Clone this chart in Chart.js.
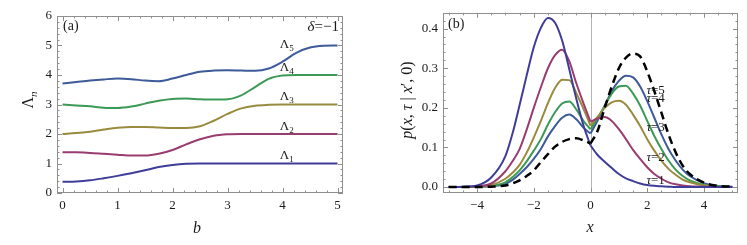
<!DOCTYPE html>
<html>
<head>
<meta charset="utf-8">
<script src="https://cdn.jsdelivr.net/npm/chart.js@4"></script>
<style>
  html, body { margin: 0; padding: 0; background: #fff; }
  #wrap { position: relative; width: 747px; height: 245px; }
  canvas { position: absolute; top: 0; }
  #chartA { left: 0; }
  #chartB { left: 375px; }
</style>
</head>
<body>
<div id="wrap">
  <canvas id="chartA" width="375" height="245"></canvas>
  <canvas id="chartB" width="372" height="245"></canvas>
</div>
<script>
// ---- panel (a): eigenvalues vs b ----
const bValues = [0, 0.25, 0.5, 0.75, 1, 1.25, 1.5, 1.75, 2, 2.25, 2.5, 2.75, 3, 3.25, 3.5, 3.75, 4, 4.25, 4.5, 4.75, 5];
const lambda1 = [0.38, 0.39, 0.43, 0.50, 0.58, 0.67, 0.77, 0.88, 0.95, 0.99, 1.0, 1, 1, 1, 1, 1, 1, 1, 1, 1, 1];
const lambda2 = [1.38, 1.38, 1.36, 1.33, 1.30, 1.27, 1.27, 1.33, 1.46, 1.65, 1.82, 1.94, 1.99, 2, 2, 2, 2, 2, 2, 2, 2];
const lambda3 = [2.0, 2.03, 2.08, 2.15, 2.21, 2.24, 2.24, 2.22, 2.20, 2.20, 2.26, 2.45, 2.68, 2.87, 2.96, 2.99, 3, 3, 3, 3, 3];
const lambda4 = [3.0, 2.97, 2.94, 2.89, 2.88, 2.93, 3.03, 3.13, 3.19, 3.20, 3.18, 3.17, 3.18, 3.31, 3.59, 3.87, 3.98, 4, 4, 4, 4];
const lambda5 = [3.71, 3.76, 3.81, 3.85, 3.88, 3.86, 3.81, 3.79, 3.88, 4.00, 4.11, 4.15, 4.16, 4.15, 4.14, 4.22, 4.45, 4.75, 4.93, 4.99, 5.0];
const lambdaNames = ['1', '2', '3', '4', '5'];
const aXTicks = [0, 1, 2, 3, 4, 5];
const aYTicks = [0, 1, 2, 3, 4, 5, 6];

// ---- panel (b): p(x, tau | x', 0) ----
const xValues = [-5, -4.5, -4, -3.5, -3, -2.75, -2.5, -2.25, -2, -1.75, -1.5, -1.25, -1, -0.75, -0.5, -0.25, 0,
  0.25, 0.5, 0.75, 1, 1.25, 1.5, 1.75, 2, 2.25, 2.5, 2.75, 3, 3.25, 3.5, 4, 4.5, 5];
const tau1 = [0, 0.001, 0.004, 0.024, 0.078, 0.135, 0.207, 0.282, 0.353, 0.402, 0.427, 0.415, 0.370, 0.298, 0.223, 0.156, 0.105,
  0.081, 0.064, 0.048, 0.033, 0.022, 0.015, 0.009, 0.005, 0.003, 0.002, 0.001, 0, 0, 0, 0, 0, 0];
const tau2 = [0, 0, 0.002, 0.009, 0.040, 0.065, 0.096, 0.145, 0.200, 0.252, 0.300, 0.333, 0.347, 0.318, 0.262, 0.212, 0.165,
  0.173, 0.177, 0.167, 0.146, 0.121, 0.094, 0.071, 0.050, 0.033, 0.021, 0.012, 0.007, 0.004, 0.002, 0.001, 0, 0];
const tau3 = [0, 0, 0.001, 0.005, 0.021, 0.036, 0.056, 0.087, 0.125, 0.167, 0.212, 0.250, 0.271, 0.270, 0.237, 0.198, 0.155,
  0.177, 0.200, 0.214, 0.218, 0.208, 0.183, 0.154, 0.121, 0.092, 0.067, 0.046, 0.031, 0.019, 0.012, 0.004, 0.001, 0];
const tau4 = [0, 0, 0.001, 0.003, 0.012, 0.025, 0.042, 0.065, 0.092, 0.121, 0.158, 0.189, 0.211, 0.216, 0.196, 0.167, 0.146,
  0.174, 0.205, 0.236, 0.254, 0.256, 0.236, 0.206, 0.167, 0.129, 0.096, 0.067, 0.044, 0.028, 0.017, 0.006, 0.002, 0];
const tau5 = [0, 0, 0.001, 0.002, 0.008, 0.018, 0.033, 0.050, 0.071, 0.096, 0.128, 0.154, 0.175, 0.183, 0.171, 0.150, 0.135,
  0.168, 0.205, 0.242, 0.268, 0.281, 0.277, 0.254, 0.217, 0.175, 0.133, 0.096, 0.067, 0.044, 0.028, 0.010, 0.003, 0.001];
const pDashed = [0, 0, 0, 0.001, 0.004, 0.009, 0.017, 0.028, 0.042, 0.063, 0.083, 0.102, 0.114, 0.121, 0.123, 0.118, 0.110,
  0.142, 0.200, 0.254, 0.300, 0.327, 0.337, 0.330, 0.292, 0.242, 0.188, 0.133, 0.088, 0.054, 0.033, 0.011, 0.003, 0.001];
const tauNames = ['1', '2', '3', '4', '5'];
const bXTicks = [-4, -2, 0, 2, 4];
const bYTicks = [0, 0.1, 0.2, 0.3, 0.4];

const colors = ['#3f3d99', '#993d71', '#998b3d', '#3d9956', '#3d5a99'];
const SERIF = '"Liberation Serif", "DejaVu Serif", serif';
const INK = '#1a1a1a';

// draw text made of pieces (italic / subscript)
function richText(ctx, parts, x, y, size, align) {
  const font = p => (p.it ? 'italic ' : '') + (p.sub ? Math.round(size * 0.7) : size) + 'px ' + SERIF;
  let w = 0;
  parts.forEach(p => { ctx.font = font(p); p.w = ctx.measureText(p.t).width; w += p.w; });
  let cx = align === 'center' ? x - w / 2 : align === 'right' ? x - w : x;
  ctx.textAlign = 'left';
  ctx.textBaseline = 'alphabetic';
  parts.forEach(p => {
    ctx.font = font(p);
    ctx.fillText(p.t, cx, y + (p.sub ? size * 0.25 : 0));
    cx += p.w;
  });
}

// frame with inward major/minor ticks on all four sides, like Mathematica
const framePlugin = {
  id: 'frame',
  beforeDatasetsDraw(chart, args, opts) {
    if (!opts.zeroLine) return;
    const { ctx, chartArea: a, scales: { x } } = chart;
    const px = Math.round(x.getPixelForValue(0)) + 0.5;
    ctx.save();
    ctx.strokeStyle = '#b4b4b4';
    ctx.lineWidth = 1;
    ctx.beginPath();
    ctx.moveTo(px, a.top);
    ctx.lineTo(px, a.bottom);
    ctx.stroke();
    ctx.restore();
  },
  afterDatasetsDraw(chart, args, opts) {
    const { ctx, chartArea: a, scales: { x, y } } = chart;
    ctx.save();
    ctx.strokeStyle = '#8f8f8f';
    ctx.lineWidth = 1;
    ctx.strokeRect(Math.round(a.left) + 0.5, Math.round(a.top) + 0.5,
      Math.round(a.right - a.left) - 1, Math.round(a.bottom - a.top) - 1);
    ctx.beginPath();
    const isMajor = (v, list) => list.some(t => Math.abs(t - v) < 1e-6);
    for (let k = Math.ceil(x.min / opts.xMinor - 1e-9); k * opts.xMinor <= x.max + 1e-9; k++) {
      const v = k * opts.xMinor;
      const px = Math.round(x.getPixelForValue(v)) + 0.5;
      const len = isMajor(v, opts.xMajor) ? 5 : 2.5;
      ctx.moveTo(px, a.bottom); ctx.lineTo(px, a.bottom - len);
      ctx.moveTo(px, a.top); ctx.lineTo(px, a.top + len);
    }
    for (let k = Math.ceil(y.min / opts.yMinor - 1e-9); k * opts.yMinor <= y.max + 1e-9; k++) {
      const v = k * opts.yMinor;
      const py = Math.round(y.getPixelForValue(v)) + 0.5;
      const len = isMajor(v, opts.yMajor) ? 5 : 2.5;
      ctx.moveTo(a.left, py); ctx.lineTo(a.left + len, py);
      ctx.moveTo(a.right, py); ctx.lineTo(a.right - len, py);
    }
    ctx.stroke();
    ctx.restore();
  }
};

// text annotations: curve labels, panel tags, axis titles
const notesPlugin = {
  id: 'notes',
  afterDraw(chart, args, opts) {
    const { ctx, scales: { x, y } } = chart;
    ctx.save();
    ctx.fillStyle = INK;
    (opts.labels || []).forEach(l => {
      richText(ctx, l.parts, x.getPixelForValue(l.x), y.getPixelForValue(l.y) + 4.5, 13, 'left');
    });
    (opts.texts || []).forEach(t => richText(ctx, t.parts, t.px, t.py, t.size, t.align));
    const yt = opts.yTitle;
    ctx.translate(yt.px, yt.py);
    ctx.rotate(-Math.PI / 2);
    richText(ctx, yt.parts, 0, 0, yt.size, 'center');
    ctx.restore();
  }
};

function scaleOpts(min, max, ticks, fmt, fitSize, isX) {
  return {
    type: 'linear',
    min: min,
    max: max,
    afterBuildTicks: s => { s.ticks = ticks.map(v => ({ value: v })); },
    afterFit: s => { if (isX) s.height = fitSize; else s.width = fitSize; },
    grid: { display: false, drawTicks: false },
    border: { display: false },
    ticks: {
      padding: 5, color: INK, autoSkip: false, maxRotation: 0,
      font: { family: SERIF, size: 13 },
      callback: fmt
    }
  };
}

const minusFmt = v => (v < 0 ? '\u2212' + (-v) : String(v));

// panel (a)
const lambdaSeries = [lambda1, lambda2, lambda3, lambda4, lambda5];
const lambdaLabelY = [1.31, 2.30, 3.32, 4.29, 5.08];
new Chart(document.getElementById('chartA'), {
  type: 'line',
  data: {
    datasets: lambdaSeries.map((ys, i) => ({
      data: bValues.map((b, j) => ({ x: b, y: ys[j] })),
      borderColor: colors[i],
      borderWidth: 2,
      pointRadius: 0,
      fill: false,
      cubicInterpolationMode: 'monotone'
    }))
  },
  options: {
    responsive: false,
    animation: false,
    devicePixelRatio: 1,
    layout: { padding: { left: 0, right: 32, top: 16, bottom: 0 } },
    plugins: {
      legend: { display: false },
      tooltip: { enabled: false },
      frame: { xMinor: 0.2, yMinor: 0.2, xMajor: aXTicks, yMajor: aYTicks },
      notes: {
        labels: lambdaNames.map((n, i) => ({ x: 3.95, y: lambdaLabelY[i], parts: [{ t: '\u039B' }, { t: n, sub: true }] })),
        texts: [
          { parts: [{ t: '(a)' }], px: 63, py: 30, size: 14, align: 'left' },
          { parts: [{ t: '\u03B4', it: true }, { t: '=\u22121' }], px: 339, py: 31, size: 15, align: 'right' },
          { parts: [{ t: 'b', it: true }], px: 197, py: 233, size: 16, align: 'center' }
        ],
        yTitle: { parts: [{ t: '\u039B' }, { t: 'n', it: true, sub: true }], px: 33, py: 100, size: 16 }
      }
    },
    scales: {
      x: scaleOpts(-0.1, 5.1, aXTicks, v => String(v), 52, true),
      y: scaleOpts(0, 6, aYTicks, v => String(v), 57, false)
    }
  },
  plugins: [framePlugin, notesPlugin]
});

// panel (b): each curve split at x = 0 so the cusp stays sharp
const tauSeries = [tau1, tau2, tau3, tau4, tau5];
const tauLabelY = [0.018, 0.077, 0.152, 0.225, 0.247];
function halves(ys) {
  const pts = xValues.map((x, j) => ({ x: x, y: ys[j] }));
  return [pts.filter(p => p.x <= 0), pts.filter(p => p.x >= 0)];
}
const bSets = [];
halves(pDashed).forEach(part => bSets.push({
  data: part, borderColor: '#000', borderWidth: 2.5, borderDash: [8, 5],
  pointRadius: 0, fill: false, cubicInterpolationMode: 'monotone'
}));
tauSeries.forEach((ys, i) => halves(ys).forEach(part => bSets.push({
  data: part, borderColor: colors[i], borderWidth: 2,
  pointRadius: 0, fill: false, cubicInterpolationMode: 'monotone'
})));

new Chart(document.getElementById('chartB'), {
  type: 'line',
  data: { datasets: bSets },
  options: {
    responsive: false,
    animation: false,
    devicePixelRatio: 1,
    layout: { padding: { left: 0, right: 9, top: 11, bottom: 0 } },
    plugins: {
      legend: { display: false },
      tooltip: { enabled: false },
      frame: { xMinor: 0.5, yMinor: 0.02, xMajor: bXTicks, yMajor: bYTicks, zeroLine: true },
      notes: {
        labels: tauNames.map((n, i) => ({ x: 1.97, y: tauLabelY[i], parts: [{ t: '\u03C4', it: true }, { t: '=' + n }] })),
        texts: [
          { parts: [{ t: '(b)' }], px: 73, py: 28, size: 14, align: 'left' },
          { parts: [{ t: 'x', it: true }], px: 215, py: 232, size: 16, align: 'center' }
        ],
        yTitle: {
          parts: [{ t: 'p', it: true }, { t: '(' }, { t: 'x', it: true }, { t: ', ' }, { t: '\u03C4', it: true },
            { t: ' | ' }, { t: 'x', it: true }, { t: '\u2032, 0)' }],
          px: 37, py: 100, size: 16
        }
      }
    },
    scales: {
      x: scaleOpts(-5.2, 5.2, bXTicks, minusFmt, 52, true),
      y: scaleOpts(-0.015, 0.44, bYTicks, v => v.toFixed(1), 68, false)
    }
  },
  plugins: [framePlugin, notesPlugin]
});
</script>
</body>
</html>
